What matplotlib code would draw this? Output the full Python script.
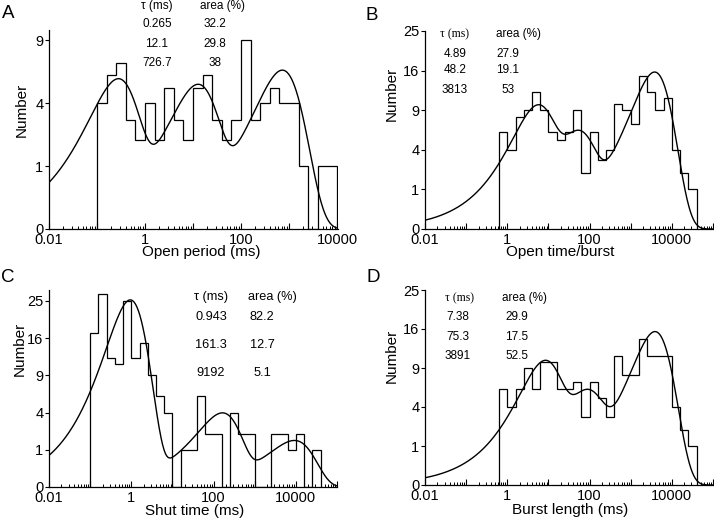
import numpy as np
import matplotlib
matplotlib.use("Agg")
import matplotlib.pyplot as plt
from matplotlib import ticker

plt.rcParams['font.family'] = ['Liberation Sans', 'DejaVu Sans']

W, H = 714, 522
BINS_PER_DECADE = 5

# A - open period
a_counts = [4, 6, 7, 3, 2, 4, 2, 5, 3, 2, 5, 6, 3, 2, 3, 9, 3, 4, 5, 4, 4, 1, 0, 1, 1]
a_first_edge = 0.1
a_tau = [0.265, 12.1, 726.7]
a_area = [32.2, 29.8, 38]
a_tau_txt = ["0.265", "12.1", "726.7"]
a_area_txt = ["32.2", "29.8", "38"]
a_fit_n = 99

# B - open time / burst
b_counts = [6, 4, 8, 9, 12, 9, 6, 5, 6, 9, 2, 6, 3, 4, 10, 9, 7, 15, 12, 9, 11, 4, 2, 1]
b_first_edge = 10 ** -0.2
b_tau = [4.89, 48.2, 3813]
b_area = [27.9, 19.1, 53]
b_tau_txt = ["4.89", "48.2", "3813"]
b_area_txt = ["27.9", "19.1", "53"]
b_fit_n = 175

# C - shut time
c_counts = [17, 27, 12, 11, 25, 12, 15, 9, 6, 4, 0, 1, 1, 6, 2, 2, 0, 4, 2, 2,
            0, 0, 2, 2, 1, 2, 0, 1]
c_first_edge = 0.1
c_tau = [0.943, 161.3, 9192]
c_area = [82.2, 12.7, 5.1]
c_tau_txt = ["0.943", "161.3", "9192"]
c_area_txt = ["82.2", "12.7", "5.1"]
c_fit_n = 181

# D - burst length
d_counts = [6, 4, 6, 9, 6, 10, 10, 6, 6, 7, 3, 7, 5, 3, 11, 8, 8, 14, 11, 11, 11, 4, 2, 1]
d_first_edge = 10 ** -0.2
d_tau = [7.38, 75.3, 3891]
d_area = [29.9, 17.5, 52.5]
d_tau_txt = ["7.38", "75.3", "3891"]
d_area_txt = ["29.9", "17.5", "52.5"]
d_fit_n = 174


def px(x, y):
    return x / W, 1 - y / H


def painel(ax, counts, first_edge, tau, area, fit_n, xmax, ymax, yticks, xlabel,
           xlab_pos, ylab_pos):
    edges = first_edge * 10 ** (np.arange(len(counts) + 1) / BINS_PER_DECADE)
    ax.stairs(counts, edges, baseline=0, color='black', lw=0.9)

    # curva ajustada (soma de exponenciais, escala log-binned)
    t = np.logspace(-2, np.log10(xmax), 600)
    dens = sum(a / 100 * (t / tt) * np.exp(-t / tt) for a, tt in zip(area, tau))
    ax.plot(t, fit_n * np.log(10) / BINS_PER_DECADE * dens, color='black', lw=1.0)

    ax.set_xscale('log')
    ax.set_yscale('function', functions=(lambda v: np.sqrt(np.clip(v, 0, None)), np.square))
    ax.set_xlim(0.01, xmax)
    ax.set_ylim(0, ymax)

    decades = [10.0 ** k for k in range(-2, int(np.floor(np.log10(xmax))) + 1)]
    labels = {0.01: "0.01", 1.0: "1", 100.0: "100", 10000.0: "10000"}
    ax.set_xticks(decades, [labels.get(round(d, 2), "") for d in decades])
    ax.xaxis.set_minor_locator(ticker.LogLocator(base=10, subs=np.arange(2, 10), numticks=20))
    ax.xaxis.set_minor_formatter(ticker.NullFormatter())
    ax.set_yticks(yticks, [str(v) for v in yticks])

    ax.tick_params(axis='x', which='major', direction='in', length=4, width=0.8,
                   labelsize=10.5, pad=3)
    ax.tick_params(axis='x', which='minor', direction='in', length=2.2, width=0.7)
    ax.tick_params(axis='y', direction='out', length=3, width=0.8, labelsize=10.5, pad=1)

    for s in ['top', 'right']:
        ax.spines[s].set_visible(False)
    for s in ['left', 'bottom']:
        ax.spines[s].set_linewidth(0.9)

    ax.set_xlabel(xlabel, fontsize=11, va='center')
    ax.xaxis.set_label_coords(*xlab_pos)
    ax.set_ylabel("Number", fontsize=11, va='center')
    ax.yaxis.set_label_coords(*ylab_pos)


def tabela(fig, hx, ax2, hy, rows_y, tau_txt, area_txt, col1, col2, size, serif=False):
    fam = ['Liberation Serif'] if serif else ['Liberation Sans', 'DejaVu Sans']
    fig.text(*px(hx, hy), "\u03c4 (ms)", ha='center', va='center', fontsize=size, family=fam)
    fig.text(*px(ax2, hy), "area (%)", ha='center', va='center', fontsize=size)
    for y, s1, s2 in zip(rows_y, tau_txt, area_txt):
        fig.text(*px(col1, y), s1, ha='center', va='center', fontsize=size)
        fig.text(*px(col2, y), s2, ha='center', va='center', fontsize=size)


fig = plt.figure(figsize=(W / 100, H / 100), dpi=100)

ax_a = fig.add_axes([49 / W, 1 - 229 / H, 289 / W, 199 / H])
ax_b = fig.add_axes([425 / W, 1 - 229 / H, 288 / W, 198 / H])
ax_c = fig.add_axes([49 / W, 1 - 487 / H, 288 / W, 197 / H])
ax_d = fig.add_axes([425 / W, 1 - 485 / H, 288 / W, 195 / H])

painel(ax_a, a_counts, a_first_edge, a_tau, a_area, a_fit_n, 1.05e4, 10, [0, 1, 4, 9],
       "Open period (ms)", (0.526, -0.118), (-0.093, 0.60))
painel(ax_b, b_counts, b_first_edge, b_tau, b_area, b_fit_n, 1e5, 25, [0, 1, 4, 9, 16, 25],
       "Open time/burst", (0.47, -0.118), (-0.115, 0.68))
painel(ax_c, c_counts, c_first_edge, c_tau, c_area, c_fit_n, 1e5, 28, [0, 1, 4, 9, 16, 25],
       "Shut time (ms)", (0.507, -0.124), (-0.10, 0.70))
painel(ax_d, d_counts, d_first_edge, d_tau, d_area, d_fit_n, 1e5, 25, [0, 1, 4, 9, 16, 25],
       "Burst length (ms)", (0.503, -0.128), (-0.115, 0.66))

tabela(fig, 157, 223, 6, [24, 44, 63], a_tau_txt, a_area_txt, 157, 215, 8.5)
tabela(fig, 455, 518, 34, [54, 70, 90], b_tau_txt, b_area_txt, 455, 508, 8.5, serif=True)
tabela(fig, 211, 272, 297, [317, 344.5, 372.5], c_tau_txt, c_area_txt, 211, 262, 9.2)
tabela(fig, 459, 525, 298, [317.5, 336.7, 355.8], d_tau_txt, d_area_txt, 458, 517, 8.5,
       serif=True)

for letra, (x, y) in zip("ABCD", [(8, 13), (372, 15), (8, 277), (373, 277)]):
    fig.text(*px(x, y), letra, ha='center', va='center', fontsize=13.5)

fig.savefig("out.png", dpi=100)
